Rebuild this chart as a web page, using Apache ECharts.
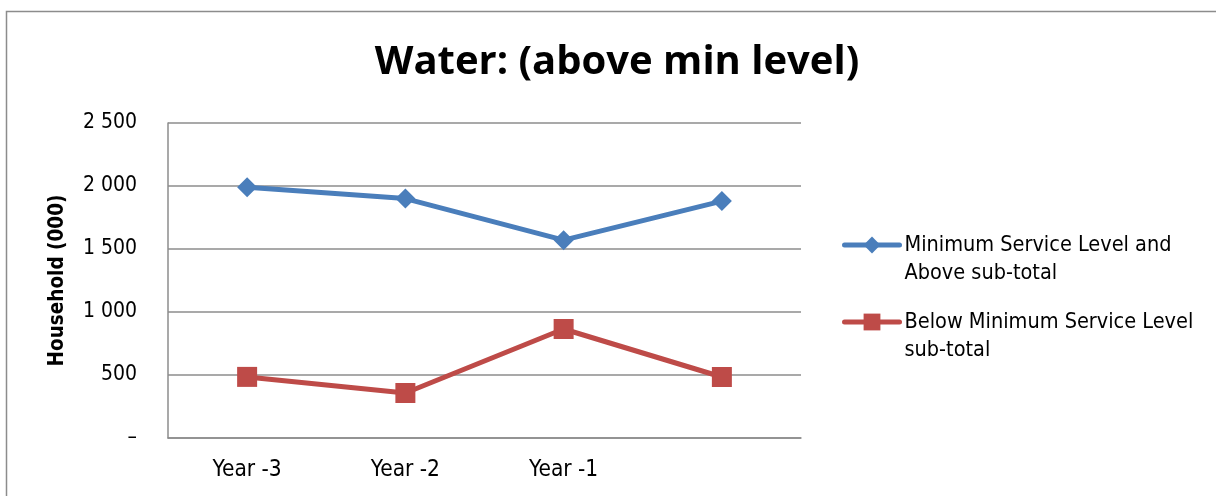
<!DOCTYPE html>
<html>
<head>
<meta charset="utf-8">
<script src="https://cdn.jsdelivr.net/npm/echarts@6/dist/echarts.min.js"></script>
<style>
  html, body { margin: 0; padding: 0; background: #fff; }
  #chart { width: 1216px; height: 496px; }
</style>
</head>
<body>
<div id="chart"></div>
<script>
// Household counts (thousands) by service level
const categories = ['Year -3', 'Year -2', 'Year -1', ''];
const aboveMin = [1990, 1900, 1570, 1880];
const belowMin = [485, 357, 865, 484];
const yTicks = { min: 0, max: 2500, step: 500 };
const seriesNames = [
  'Minimum Service Level and\nAbove sub-total',
  'Below Minimum Service Level\nsub-total'
];

const narrow = '"DejaVu Sans Condensed", "Liberation Sans", sans-serif';
const gridGray = '#8c8c8c';
const blue = '#4a7ebb';
const red = '#be4b48';

function fmtTick(v) {
  if (v === 0) return '–';
  return String(v).replace(/\B(?=(\d{3})+(?!\d))/g, ' ');
}

// One legend block per series; a leading blank line keeps the icon level
// with the first line of the two-line label
function legendBlock(name, top) {
  return {
    orient: 'vertical',
    left: 842,
    top: top,
    padding: 0,
    itemWidth: 55,
    itemHeight: 21,
    lineStyle: { width: 5, cap: 'round' },
    formatter: n => '\u00a0\n' + n,
    textStyle: { fontFamily: narrow, fontSize: 21.5, color: '#000', lineHeight: 28 },
    data: [{ name: name }]
  };
}

const chart = echarts.init(document.getElementById('chart'));
chart.setOption({
  animation: false,
  backgroundColor: '#ffffff',
  title: {
    text: 'Water: (above min level)',
    left: 612,
    textAlign: 'center',
    top: 38,
    textStyle: { fontFamily: '"Open Sans", sans-serif', fontWeight: 'bold', fontSize: 40, color: '#000' }
  },
  graphic: [{
    type: 'rect',
    shape: { x: 6.5, y: 11.5, width: 1400, height: 600 },
    style: { fill: 'none', stroke: '#8c8c8c', lineWidth: 1.5 },
    silent: true
  }],
  grid: { left: 168, right: 415, top: 123, bottom: 58 },
  xAxis: {
    type: 'category',
    data: categories,
    boundaryGap: true,
    axisLine: { lineStyle: { color: gridGray, width: 1.5 } },
    axisTick: { show: false },
    axisLabel: { color: '#000', fontFamily: narrow, fontSize: 22.5, margin: 21 }
  },
  yAxis: {
    type: 'value',
    min: yTicks.min,
    max: yTicks.max,
    interval: yTicks.step,
    name: 'Household (000)',
    nameLocation: 'middle',
    nameGap: 100,
    nameTextStyle: { fontFamily: narrow, fontWeight: 'bold', fontSize: 20.5, color: '#000' },
    axisLine: { show: true, lineStyle: { color: gridGray, width: 1.5 } },
    axisTick: { show: false },
    splitLine: { lineStyle: { color: gridGray, width: 1.5 } },
    axisLabel: { color: '#000', fontFamily: narrow, fontSize: 21, margin: 31, formatter: fmtTick }
  },
  legend: [
    legendBlock(seriesNames[0], 203),
    legendBlock(seriesNames[1], 280)
  ],
  series: [
    {
      name: seriesNames[0],
      type: 'line',
      data: aboveMin,
      symbol: 'diamond',
      symbolSize: 20,
      lineStyle: { width: 5, color: blue },
      itemStyle: { color: blue }
    },
    {
      name: seriesNames[1],
      type: 'line',
      data: belowMin,
      symbol: 'rect',
      symbolSize: 20,
      lineStyle: { width: 5, color: red },
      itemStyle: { color: red }
    }
  ]
});
</script>
</body>
</html>
